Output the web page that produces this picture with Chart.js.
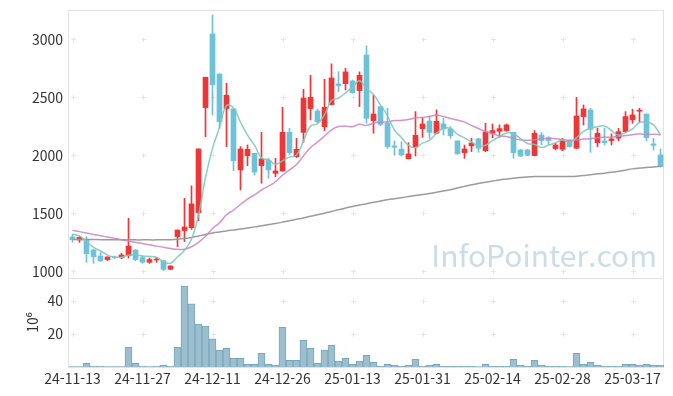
<!DOCTYPE html>
<html lang="ko">
<head>
  <meta charset="UTF-8" />
  <title>Price chart</title>
  <script src="https://cdn.jsdelivr.net/npm/chart.js"></script>
  <style>
    html, body { margin: 0; padding: 0; background: #ffffff; }
    #wrap { width: 673px; height: 396px; }
  </style>
</head>
<body>
  <div id="wrap"><canvas id="stockChart" width="673" height="396"></canvas></div>

  <script>
    // trading days
    const dates = [
      '24-11-13','24-11-14','24-11-15','24-11-18','24-11-19','24-11-20','24-11-21','24-11-22','24-11-25','24-11-26',
      '24-11-27','24-11-28','24-11-29','24-12-02','24-12-03','24-12-04','24-12-05','24-12-06','24-12-09','24-12-10',
      '24-12-11','24-12-12','24-12-13','24-12-16','24-12-17','24-12-18','24-12-19','24-12-20','24-12-23','24-12-24',
      '24-12-26','24-12-27','24-12-30','25-01-02','25-01-03','25-01-06','25-01-07','25-01-08','25-01-09','25-01-10',
      '25-01-13','25-01-14','25-01-15','25-01-16','25-01-17','25-01-20','25-01-21','25-01-22','25-01-23','25-01-24',
      '25-01-31','25-02-03','25-02-04','25-02-05','25-02-06','25-02-07','25-02-10','25-02-11','25-02-12','25-02-13',
      '25-02-14','25-02-17','25-02-18','25-02-19','25-02-20','25-02-21','25-02-24','25-02-25','25-02-26','25-02-27',
      '25-02-28','25-03-04','25-03-05','25-03-06','25-03-07','25-03-10','25-03-11','25-03-12','25-03-13','25-03-14',
      '25-03-17','25-03-18','25-03-19','25-03-20','25-03-21'
    ];
    const tickLabels = ['24-11-13','24-11-27','24-12-11','24-12-26','25-01-13','25-01-31','25-02-14','25-02-28','25-03-17'];
    const priceTicks = [1000, 1500, 2000, 2500, 3000];
    const volTicks = [20, 40];

    const opens = [
      1296,1270,1276,1184,1132,1101,1124,1118,1135,1184,
      1118,1078,1098,1092,1017,1299,1351,1376,1506,2411,
      3046,2701,2403,2400,1874,1997,2017,1911,1960,1845,
      1865,2198,1989,2198,2403,2382,2247,2437,2615,2618,
      2641,2558,2865,2299,2420,2276,2081,2052,1971,2072,
      2230,2296,2190,2270,2227,2124,2023,2081,2141,2040,
      2190,2207,2213,2198,2046,2046,1997,2175,2152,2058,
      2052,2127,2061,2334,2391,2109,2124,2127,2147,2204,
      2305,2380,2356,2098,2003
    ];
    const highs = [
      1319,1299,1299,1190,1161,1124,1132,1155,1457,1184,
      1132,1115,1121,1092,1048,1356,1629,1736,2055,2673,
      3210,2701,2621,2400,2075,2089,2017,2198,1974,1974,
      2414,2233,2147,2569,2690,2397,2655,2788,2721,2750,
      2650,2719,2943,2520,2420,2405,2124,2118,2109,2377,
      2325,2339,2391,2319,2247,2124,2089,2147,2147,2276,
      2270,2262,2270,2198,2050,2052,2213,2196,2161,2104,
      2147,2132,2500,2434,2405,2233,2233,2184,2233,2377,
      2397,2405,2356,2147,2052
    ];
    const lows = [
      1250,1250,1078,1069,1083,1092,1109,1109,1115,1092,
      1069,1069,1078,1006,1015,1213,1256,1362,1437,2161,
      2348,2233,2075,1868,1701,1911,1831,1759,1802,1816,
      1862,2003,1980,2112,2305,2276,2213,2435,2549,2563,
      2535,2420,2276,2190,2256,2060,2000,1994,1968,1994,
      2155,2147,2188,2175,2147,2010,1974,2032,2026,2032,
      2152,2155,2207,1974,1989,1995,1995,2089,2089,2046,
      2040,2069,2058,2262,2026,2075,2089,2089,2124,2196,
      2276,2290,2124,2046,1900
    ];
    const closes = [
      1273,1293,1152,1126,1092,1124,1120,1141,1218,1101,
      1078,1101,1106,1017,1046,1356,1382,1581,2055,2673,
      2609,2290,2517,1954,2055,2052,1856,1969,1874,1865,
      2198,2023,2052,2494,2500,2290,2414,2667,2601,2719,
      2540,2690,2319,2356,2267,2075,2069,2003,2012,2173,
      2270,2198,2293,2227,2170,2012,2055,2106,2061,2201,
      2213,2230,2262,2023,1994,2000,2190,2127,2127,2089,
      2132,2075,2339,2400,2224,2190,2109,2141,2204,2334,
      2348,2388,2152,2086,1902
    ];
    const ma5 = [
      1319,1305,1256,1207,1175,1140,1123,1121,1139,1141,
      1132,1128,1121,1081,1070,1125,1181,1276,1484,1809,
      2060,2242,2429,2409,2285,2174,2087,1977,1961,1923,
      1952,1986,2002,2126,2253,2272,2350,2473,2494,2538,
      2588,2643,2574,2525,2434,2341,2217,2154,2085,2066,
      2105,2131,2189,2232,2232,2180,2151,2114,2081,2087,
      2127,2162,2193,2186,2144,2102,2094,2067,2088,2107,
      2133,2110,2152,2207,2234,2246,2252,2213,2174,2196,
      2227,2283,2285,2262,2175
    ];
    const ma20 = [
      1353,1342,1330,1318,1307,1295,1284,1272,1261,1250,
      1239,1228,1217,1207,1197,1190,1190,1212,1250,1302,
      1369,1418,1487,1528,1576,1623,1659,1701,1734,1772,
      1828,1874,1921,1995,2068,2114,2166,2220,2248,2250,
      2247,2267,2257,2277,2287,2288,2299,2301,2308,2323,
      2327,2335,2348,2334,2318,2304,2286,2258,2231,2205,
      2189,2166,2163,2146,2132,2129,2135,2141,2147,2142,
      2136,2129,2132,2140,2143,2152,2155,2156,2164,2170,
      2177,2185,2179,2182,2178
    ];
    const ma60 = [
      1275,1275,1274,1274,1273,1273,1272,1272,1272,1271,
      1271,1271,1271,1272,1273,1276,1282,1292,1305,1318,
      1330,1339,1348,1356,1364,1374,1383,1393,1403,1413,
      1424,1436,1448,1460,1474,1487,1501,1516,1530,1545,
      1559,1571,1583,1595,1606,1617,1626,1635,1644,1653,
      1662,1671,1682,1693,1703,1718,1732,1746,1757,1768,
      1778,1788,1795,1802,1808,1813,1817,1818,1818,1818,
      1818,1818,1820,1826,1832,1840,1846,1853,1862,1872,
      1883,1890,1895,1900,1904
    ];
    // volume, in 10^6 shares
    const volumes = [
      0.3,0.3,2.2,0.6,0.6,0.2,0.2,0.2,11.9,2.2,
      0.6,0.2,0.6,1.2,0.6,11.9,49,38.2,26,24.8,
      17,10.3,11.3,5.3,5.3,1.6,1.6,8.3,1.6,1.0,
      24,4.0,4.0,16.2,11.3,2.2,10.3,13.2,3.6,5.3,
      1.6,3.6,7.1,2.8,0.4,1.6,1.0,0.4,1.0,4.6,
      0.4,1.0,1.6,0.4,0.4,0.4,0.4,0.4,0.2,1.6,
      0.4,0.4,0.4,4.6,1.0,0.4,4.0,1.0,0.4,0.4,
      0.4,0.2,8.3,1.6,2.8,1.0,0.4,0.4,0.4,1.6,
      1.6,1.0,1.6,1.0,1.0
    ];

    const UP = '#ef3535';
    const DOWN = '#6cc2d9';
    const candleColors = closes.map((c, i) => c >= opens[i] ? UP : DOWN);
    const FONT = '"Noto Sans CJK KR", "Noto Sans", sans-serif';

    // frame, grid crosses and watermark
    const decor = {
      id: 'decor',
      beforeDatasetsDraw(chart) {
        const ctx = chart.ctx;
        const x = chart.scales.x, yp = chart.scales.y, yv = chart.scales.yv;
        ctx.save();
        ctx.font = '30px ' + FONT;
        ctx.fillStyle = '#cbdde8';
        ctx.textAlign = 'right';
        ctx.textBaseline = 'alphabetic';
        ctx.fillText('InfoPointer.com', x.right - 7, yp.bottom - 11);

        ctx.strokeStyle = '#e2e2e2';
        ctx.lineWidth = 1;
        [yp, yv].forEach(s => {
          ctx.strokeRect(x.left - 0.5, Math.round(s.top) + 0.5, x.right - x.left, Math.round(s.bottom - s.top));
        });

        ctx.strokeStyle = '#e6e6e6';
        const marks = [];
        priceTicks.forEach(v => marks.push(yp.getPixelForValue(v)));
        volTicks.forEach(v => marks.push(yv.getPixelForValue(v)));
        tickLabels.forEach(lbl => {
          const px = Math.round(x.getPixelForValue(dates.indexOf(lbl))) + 0.5;
          marks.forEach(py => {
            py = Math.round(py) + 0.5;
            ctx.beginPath();
            ctx.moveTo(px - 2.5, py); ctx.lineTo(px + 2.5, py);
            ctx.moveTo(px, py - 2.5); ctx.lineTo(px, py + 2.5);
            ctx.stroke();
          });
        });
        ctx.restore();
      }
    };

    const lineDs = (data, color) => ({
      type: 'line', data: data, yAxisID: 'y', borderColor: color, borderWidth: 1.5,
      pointRadius: 0, tension: 0.4, fill: false, order: 0
    });

    // fixed axis width, no extra label padding
    const fitY = s => { s.width = 69; s.paddingTop = 0; s.paddingBottom = 0; };

    new Chart(document.getElementById('stockChart'), {
      data: {
        labels: dates,
        datasets: [
          lineDs(ma5, 'rgba(128,200,186,0.9)'),
          lineDs(ma20, 'rgba(200,130,196,0.85)'),
          lineDs(ma60, 'rgba(150,150,150,0.95)'),
          {
            type: 'bar', yAxisID: 'y', order: 1, grouped: false,
            data: opens.map((o, i) => [o, closes[i]]),
            backgroundColor: candleColors, barThickness: 5
          },
          {
            type: 'bar', yAxisID: 'y', order: 2, grouped: false,
            data: lows.map((l, i) => [l, highs[i]]),
            backgroundColor: candleColors, barThickness: 1
          },
          {
            type: 'bar', yAxisID: 'yv', order: 3, grouped: false,
            data: volumes,
            backgroundColor: '#9bbfcf', borderColor: '#7aa6ba', borderWidth: 1,
            barPercentage: 1, categoryPercentage: 1
          }
        ]
      },
      options: {
        responsive: false,
        animation: false,
        layout: { padding: { top: 10, right: 9, left: 0, bottom: 0 } },
        plugins: { legend: { display: false }, tooltip: { enabled: false } },
        scales: {
          x: {
            type: 'category',
            grid: { display: false },
            border: { display: false },
            ticks: {
              autoSkip: false, maxRotation: 0, padding: -5,
              color: '#333', font: { family: FONT, size: 14 },
              callback: function (v, i) {
                const lbl = dates[i];
                return tickLabels.includes(lbl) ? lbl : '';
              }
            },
            afterFit: s => { s.height = 29; s.paddingLeft = 0; s.paddingRight = 0; }
          },
          yv: {
            position: 'left', stack: 'panels', stackWeight: 89,
            min: 0, max: 53.9,
            grid: { display: false, drawTicks: false },
            border: { display: false },
            afterBuildTicks: s => { s.ticks = volTicks.map(v => ({ value: v })); },
            ticks: { padding: 6, color: '#333', font: { family: FONT, size: 14 }, callback: v => String(v) },
            title: {
              display: true, text: '10⁶', color: '#333',
              font: { family: FONT, size: 14 }, padding: { top: 24, bottom: 0 }
            },
            afterFit: fitY
          },
          y: {
            position: 'left', stack: 'panels', stackWeight: 268,
            min: 942.3, max: 3252.6,
            grid: { display: false, drawTicks: false },
            border: { display: false },
            afterBuildTicks: s => { s.ticks = priceTicks.map(v => ({ value: v })); },
            ticks: { padding: 6, color: '#333', font: { family: FONT, size: 14 }, callback: v => String(v) },
            afterFit: fitY
          }
        }
      },
      plugins: [decor]
    });
  </script>
</body>
</html>
